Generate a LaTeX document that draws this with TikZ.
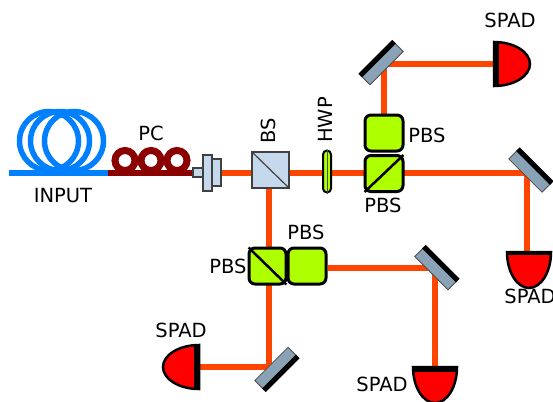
\documentclass[tikz,border=0pt]{standalone}
\usepackage{fontspec}
\setmainfont{DejaVu Sans}
\usetikzlibrary{backgrounds}
\definecolor{beamc}{HTML}{FF4500}
\definecolor{fiberc}{HTML}{0080FF}
\definecolor{pcc}{HTML}{8B0000}
\definecolor{limec}{HTML}{AEFF00}
\definecolor{opticc}{HTML}{C6D9EC}
\definecolor{mirrorc}{HTML}{8AA2B5}
\tikzset{
  x=1pt,y=-1pt,
  lab/.style={font=\fontsize{19.5}{21}\selectfont,inner sep=0pt,text=black},
  beam/.style={draw=beamc,line width=6pt},
  fiber/.style={draw=fiberc,line width=6pt},
  coil/.style={circle,draw=fiberc,line width=5.5pt,minimum size=59pt,inner sep=0pt},
  pcfiber/.style={draw=pcc,line width=6pt},
  pccoil/.style={circle,draw=pcc,line width=7pt,minimum size=20pt,inner sep=0pt},
  optic/.style={rectangle,draw=black!75,fill=opticc,line width=1.2pt,inner sep=0pt},
  pbsbox/.style={rectangle,rounded corners=6pt,draw=black,fill=limec,line width=3pt,inner sep=0pt,minimum width=37pt,minimum height=36pt},
  pbsline/.style={draw=black,line width=2.5pt,shorten <=1.5pt,shorten >=1.5pt},
  mirror/.style={rectangle,draw=black!70,fill=mirrorc,line width=0.8pt,inner sep=0pt,minimum width=47pt,minimum height=13pt},
  stripe/.style={draw=black,line width=5pt},
  pics/spad/.style={code={
    \path[fill=red,draw=black,line width=2.5pt] (0,-22) .. controls (20,-22) and (36,-12) .. (36,0) .. controls (36,12) and (20,22) .. (0,22) -- cycle;
    \draw[black,line width=#1] (#1/2,-23) -- (#1/2,23);
  }}
}
\begin{document}
\begin{tikzpicture}
\useasboundingbox (0,0) rectangle (553,401);
% fibre coils
\node[coil] (c1) at (49,141) {};
\node[coil] (c2) at (60,141) {};
\node[coil] (c3) at (74,141) {};
\coordinate (fs) at (9,173);
\coordinate (fe) at (108,173);
\draw[fiber] (fs) -- (fe);
% polarisation controller
\node[pccoil] (p1) at (125,160.5) {};
\node[pccoil] (p2) at (151,160.5) {};
\node[pccoil] (p3) at (177,160.5) {};
% collimator
\node[optic,minimum width=10pt,minimum height=9pt] (k1) at (198,172.5) {};
\node[optic,minimum width=9pt,minimum height=27pt] (k3) at (216.5,172.5) {};
\node[optic,minimum width=9pt,minimum height=36pt] (k2) at (207.5,173) {};
\draw[pcfiber] (fe) -- (fe -| k1.west);
% beam splitter
\node[optic,minimum width=37pt,minimum height=36pt] (bs) at (270.5,170) {};
\draw[black!75,line width=1.2pt] (bs.north west) -- (bs.south east);
% waveplate
\node[rectangle,rounded corners=4pt,draw=black,fill=limec,line width=2pt,inner sep=0pt,minimum width=8pt,minimum height=42pt] (hwp) at (327,171.5) {};
\draw[black!70,line width=.5pt] (hwp.north) -- (hwp.south);
% PBS
\node[pbsbox,minimum width=38pt] (pa) at (384,173.5) {};
\draw[pbsline] (pa.south west) -- (pa.north east);
\node[pbsbox,minimum width=38pt] (pb) at (384,133) {};
\node[pbsbox] (pc) at (267.5,266) {};
\draw[pbsline] (pc.north west) -- (pc.south east);
\node[pbsbox,minimum width=38pt] (pd) at (307,266) {};
% mirrors
\node[mirror,rotate=45] (m1) at (382,63.5) {};
\draw[stripe] (m1.north west) -- (m1.north east);
\node[mirror,rotate=-45] (m2) at (530,171) {};
\draw[stripe] (m2.north west) -- (m2.north east);
\node[mirror,rotate=-45] (m3) at (436,268.5) {};
\draw[stripe] (m3.north west) -- (m3.north east);
\node[mirror,rotate=45] (m4) at (276,368.5) {};
\draw[stripe] (m4.south west) -- (m4.south east);
% detectors
\pic at (494,64) {spad=5pt};
\coordinate (d1) at (494,64);
\pic[rotate=-90] at (529,252) {spad=2.5pt};
\coordinate (d2) at (527,252);
\pic[rotate=-90] at (435,367) {spad=5pt};
\coordinate (d3) at (435,367);
\pic[rotate=180] at (199,367) {spad=5pt};
\coordinate (d4) at (199,367);
% beam corners
\coordinate (h1) at (384,64);
\coordinate (h2) at (527,173);
\coordinate (h3) at (435,268);
\coordinate (h4) at (269,367);
\begin{scope}[on background layer]
\draw[beam] (k3.east) -- (bs.west |- k3.east);
\draw[beam] (h2 -| bs.east) -- (h2) -- (d2);
\draw[beam] (h1 |- pb.north) -- (h1) -- (d1);
\draw[beam] (h4 |- bs.south) -- (h4) -- (d4);
\draw[beam] (h3 -| pd.east) -- (h3) -- (d3);
\end{scope}
% labels
\node[lab] (t1) at (63,196) {INPUT};
\node[lab] (t2) at (151,133) {PC};
\node[lab,rotate=90] (t3) at (268,131) {BS};
\node[lab,rotate=90] (t4) at (325,120) {HWP};
\node[lab] (t5) at (427,135) {PBS};
\node[lab] (t6) at (383,205) {PBS};
\node[lab] (t7) at (306,232) {PBS};
\node[lab] (t8) at (228,266) {PBS};
\node[lab] (t9) at (510,20) {SPAD};
\node[lab] (t10) at (530,296) {SPAD};
\node[lab] (t11) at (181,330) {SPAD};
\node[lab] (t12) at (382,384) {SPAD};
\end{tikzpicture}
\end{document}
